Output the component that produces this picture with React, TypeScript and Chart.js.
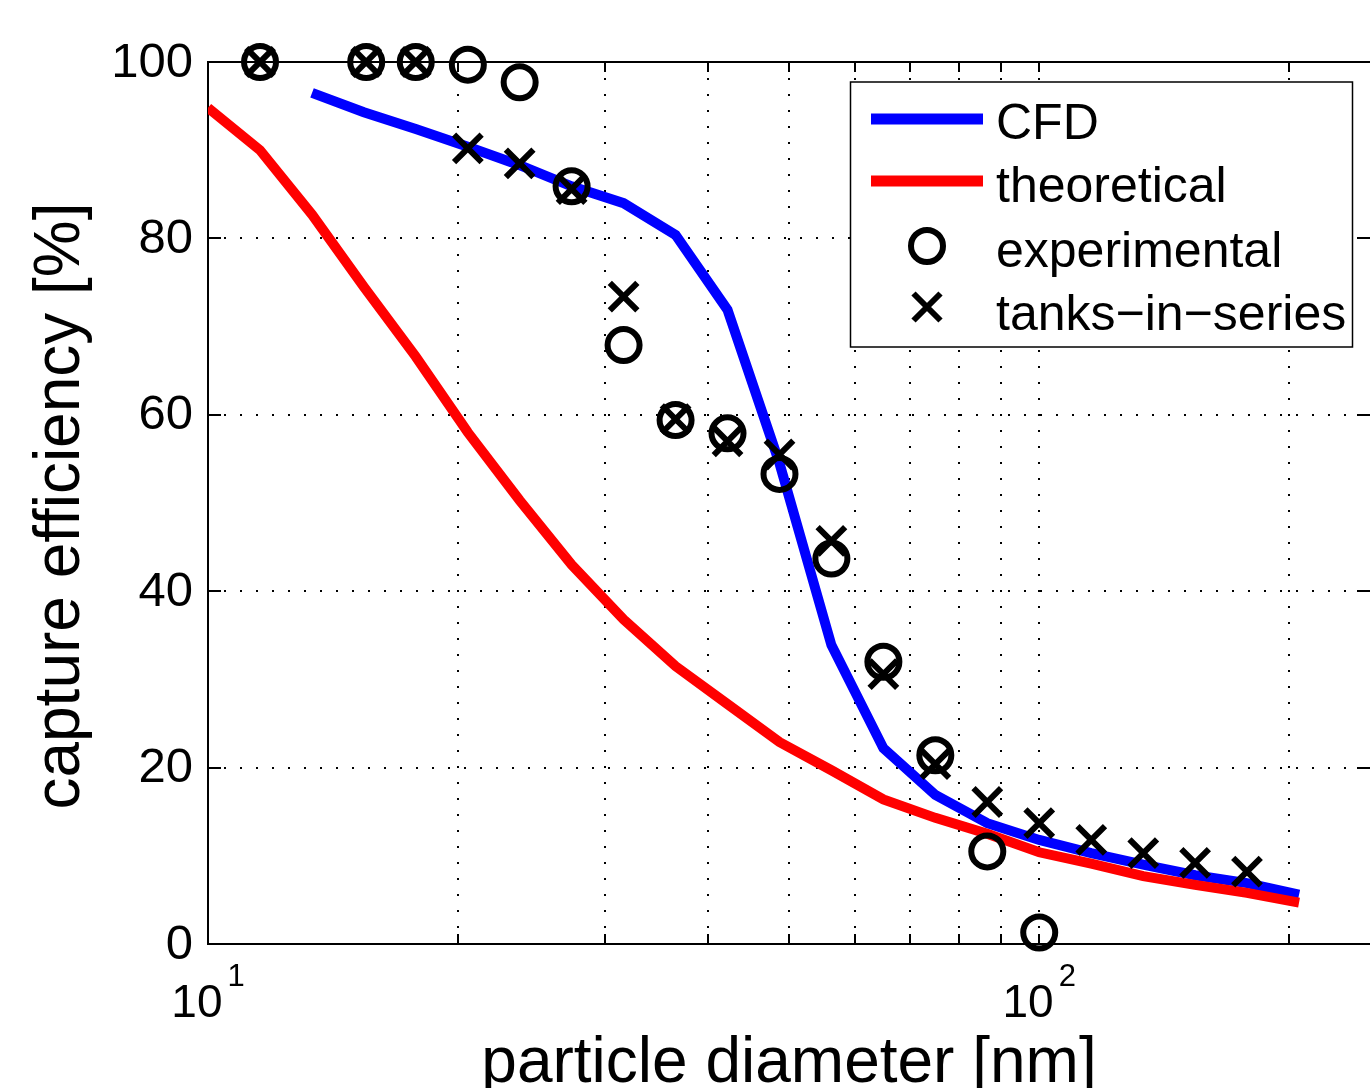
import React, { useEffect, useRef } from 'react';
import { Chart, registerables } from 'chart.js';

Chart.register(...registerables);

// ---------------- data ----------------
const diameterTheory = [10, 11.55, 13.34, 15.4, 17.78, 20.54, 23.71, 27.38, 31.62, 36.52, 42.17, 48.7, 56.23, 64.94, 74.99, 86.6, 100, 115.5, 133.4, 154, 177.8, 205.4];
const theoretical = [94.8, 90.0, 82.7, 74.5, 66.6, 58.0, 50.3, 43.0, 36.8, 31.5, 27.2, 22.9, 19.7, 16.4, 14.3, 12.5, 10.4, 9.1, 7.7, 6.7, 5.8, 4.7];

const diameterCfd = [13.34, 15.4, 17.78, 20.54, 23.71, 27.38, 31.62, 36.52, 42.17, 48.7, 56.23, 64.94, 74.99, 86.6, 100, 115.5, 133.4, 154, 177.8, 205.4];
const cfd = [96.5, 94.3, 92.4, 90.4, 88.3, 85.9, 84.0, 80.4, 71.9, 54.5, 33.9, 22.2, 16.9, 13.7, 11.8, 10.3, 9.0, 7.8, 6.9, 5.6];

const diameterExp = [11.55, 15.5, 17.78, 20.54, 23.71, 27.38, 31.62, 36.52, 42.17, 48.7, 56.23, 64.94, 74.99, 86.6, 100];
const experimental = [100, 100, 100, 99.7, 97.7, 85.9, 67.9, 59.4, 57.9, 53.3, 43.7, 32.0, 21.4, 10.5, 1.3];

const diameterTis = [11.55, 15.5, 17.78, 20.54, 23.71, 27.38, 31.62, 36.52, 42.17, 48.7, 56.23, 64.94, 74.99, 86.6, 100, 115.5, 133.4, 154, 177.8];
const tanksInSeries = [100, 100, 100, 90.2, 88.5, 85.6, 73.4, 59.5, 57.0, 55.5, 45.7, 30.6, 20.4, 16.1, 13.7, 11.8, 10.3, 9.2, 8.2];

const yTicks = [0, 20, 40, 60, 80, 100];
const xTicks = [10, 20, 30, 40, 50, 60, 70, 80, 90, 100, 200];
const xLabelValues = [10, 100];
const xLabelExponents = ['1', '2'];
const legendLabels = ['CFD', 'theoretical', 'experimental', 'tanks\u2212in\u2212series'];
const xTitle = 'particle diameter [nm]';
const yTitle = 'capture efficiency [%]';

const X_MIN = 10;
const X_MAX = 250;
const FONT = '"Liberation Sans", Arial, Helvetica, sans-serif';

const pts = (xs: number[], ys: number[]) => xs.map((x, i) => ({ x, y: ys[i] }));

const matlabAxes = {
  id: 'matlabAxes',
  beforeDatasetsDraw(chart: any) {
    const { ctx, chartArea: a, scales } = chart;
    const xs = scales.x;
    const ys = scales.y;
    ctx.save();
    // dotted grid
    ctx.strokeStyle = '#000';
    ctx.lineWidth = 2;
    ctx.setLineDash([2, 14]);
    for (const v of xTicks) {
      if (v <= X_MIN || v >= X_MAX) continue;
      const px = Math.round(xs.getPixelForValue(v));
      ctx.beginPath();
      ctx.moveTo(px, a.bottom);
      ctx.lineTo(px, a.top);
      ctx.stroke();
    }
    for (const v of yTicks) {
      if (v === 0 || v === 100) continue;
      const py = Math.round(ys.getPixelForValue(v));
      ctx.beginPath();
      ctx.moveTo(a.left, py);
      ctx.lineTo(a.right, py);
      ctx.stroke();
    }
    ctx.setLineDash([]);
    // tick marks
    ctx.lineWidth = 2;
    for (const v of xTicks) {
      const px = Math.round(xs.getPixelForValue(v));
      ctx.beginPath();
      ctx.moveTo(px, a.bottom);
      ctx.lineTo(px, a.bottom - 10);
      ctx.moveTo(px, a.top);
      ctx.lineTo(px, a.top + 10);
      ctx.stroke();
    }
    for (const v of yTicks) {
      const py = Math.round(ys.getPixelForValue(v));
      ctx.beginPath();
      ctx.moveTo(a.left, py);
      ctx.lineTo(a.left + 13, py);
      ctx.moveTo(a.right, py);
      ctx.lineTo(a.right - 13, py);
      ctx.stroke();
    }
    // frame (right edge lies just outside the visible canvas)
    const L = Math.round(a.left), T = Math.round(a.top), B = Math.round(a.bottom), R = Math.round(a.right) + 1;
    ctx.beginPath();
    ctx.moveTo(R, T);
    ctx.lineTo(L, T);
    ctx.lineTo(L, B);
    ctx.lineTo(R, B);
    ctx.lineTo(R, T);
    ctx.stroke();

    // tick labels
    ctx.fillStyle = '#000';
    ctx.font = `49px ${FONT}`;
    ctx.textAlign = 'right';
    ctx.textBaseline = 'middle';
    for (const v of yTicks) {
      ctx.fillText(String(v), a.left - 15, ys.getPixelForValue(v) + 1);
    }
    ctx.textAlign = 'left';
    ctx.textBaseline = 'alphabetic';
    xLabelValues.forEach((v, i) => {
      const px = xs.getPixelForValue(v);
      ctx.font = `46px ${FONT}`;
      const w1 = ctx.measureText('10').width;
      ctx.font = `31px ${FONT}`;
      const w2 = ctx.measureText(xLabelExponents[i]).width;
      const gap = 5;
      const start = px - (w1 + gap + w2) / 2;
      ctx.font = `46px ${FONT}`;
      ctx.fillText('10', start, a.bottom + 73);
      ctx.font = `31px ${FONT}`;
      ctx.fillText(xLabelExponents[i], start + w1 + gap, a.bottom + 42);
    });

    // axis titles
    ctx.font = `64px ${FONT}`;
    ctx.textAlign = 'center';
    ctx.textBaseline = 'alphabetic';
    ctx.fillText(xTitle, (a.left + a.right) / 2, a.bottom + 138);
    ctx.save();
    ctx.translate(79, (a.top + a.bottom) / 2 + 3);
    ctx.rotate(-Math.PI / 2);
    ctx.fillText(yTitle, 0, 0);
    ctx.restore();
    ctx.restore();
  },
  afterDraw(chart: any) {
    const { ctx } = chart;
    ctx.save();
    // legend box
    const bx = 850.5, by = 82, bw = 502, bh = 265;
    ctx.fillStyle = '#fff';
    ctx.fillRect(bx, by, bw, bh);
    ctx.strokeStyle = '#000';
    ctx.lineWidth = 1.5;
    ctx.strokeRect(bx, by, bw, bh);

    const rowsY = [119, 181, 246, 307];
    const baselines = [139, 202, 267, 330];
    // line samples
    ctx.lineWidth = 11;
    ctx.lineCap = 'butt';
    ctx.strokeStyle = '#0000ff';
    ctx.beginPath();
    ctx.moveTo(871, rowsY[0]);
    ctx.lineTo(983, rowsY[0]);
    ctx.stroke();
    ctx.strokeStyle = '#ff0000';
    ctx.beginPath();
    ctx.moveTo(871, rowsY[1]);
    ctx.lineTo(983, rowsY[1]);
    ctx.stroke();
    // circle
    ctx.strokeStyle = '#000';
    ctx.lineWidth = 6;
    ctx.beginPath();
    ctx.arc(927, rowsY[2], 16, 0, Math.PI * 2);
    ctx.stroke();
    // cross
    const h = 13.5;
    ctx.beginPath();
    ctx.moveTo(927 - h, rowsY[3] - h);
    ctx.lineTo(927 + h, rowsY[3] + h);
    ctx.moveTo(927 + h, rowsY[3] - h);
    ctx.lineTo(927 - h, rowsY[3] + h);
    ctx.stroke();

    ctx.fillStyle = '#000';
    ctx.font = `50px ${FONT}`;
    ctx.textAlign = 'left';
    ctx.textBaseline = 'alphabetic';
    legendLabels.forEach((t, i) => ctx.fillText(t, 996, baselines[i]));
    ctx.restore();
  },
};

export default function App() {
  const ref = useRef<HTMLCanvasElement | null>(null);
  useEffect(() => {
    if (!ref.current) return;
    const chart = new Chart(ref.current, {
      type: 'line',
      data: {
        datasets: [
          {
            label: 'CFD',
            data: pts(diameterCfd, cfd),
            borderColor: '#0000ff',
            backgroundColor: '#0000ff',
            borderWidth: 10,
            pointRadius: 0,
            tension: 0,
            fill: false,
            order: 4,
          },
          {
            label: 'theoretical',
            data: pts(diameterTheory, theoretical),
            borderColor: '#ff0000',
            backgroundColor: '#ff0000',
            borderWidth: 10,
            pointRadius: 0,
            tension: 0,
            fill: false,
            order: 3,
          },
          {
            label: 'experimental',
            data: pts(diameterExp, experimental),
            showLine: false,
            pointStyle: 'circle',
            pointRadius: 16,
            pointBorderWidth: 6,
            pointBorderColor: '#000',
            pointBackgroundColor: 'rgba(0,0,0,0)',
            borderColor: '#000',
            clip: false,
            order: 2,
          },
          {
            label: 'tanks-in-series',
            data: pts(diameterTis, tanksInSeries),
            showLine: false,
            pointStyle: 'crossRot',
            pointRadius: 19.5,
            pointBorderWidth: 6,
            pointBorderColor: '#000',
            pointBackgroundColor: 'rgba(0,0,0,0)',
            borderColor: '#000',
            clip: false,
            order: 1,
          },
        ] as any,
      },
      options: {
        animation: false,
        responsive: false,
        devicePixelRatio: 1,
        events: [],
        layout: { autoPadding: false, padding: { top: 62, left: 0, right: 0, bottom: 0 } },
        plugins: { legend: { display: false }, tooltip: { enabled: false }, title: { display: false } },
        scales: {
          x: {
            type: 'logarithmic',
            min: X_MIN,
            max: X_MAX,
            ticks: { display: false },
            grid: { display: false },
            border: { display: false },
            afterFit: (s: any) => { s.height = 144; },
          },
          y: {
            type: 'linear',
            min: 0,
            max: 100,
            ticks: { display: false },
            grid: { display: false },
            border: { display: false },
            afterFit: (s: any) => { s.width = 208; },
          },
        },
      } as any,
      plugins: [matlabAxes],
    });
    return () => chart.destroy();
  }, []);
  return (
    <div style={{ position: 'fixed', left: 0, top: 0, width: 1370, height: 1088, background: '#fff' }}>
      <canvas ref={ref} width={1370} height={1088} style={{ display: 'block' }} />
    </div>
  );
}
